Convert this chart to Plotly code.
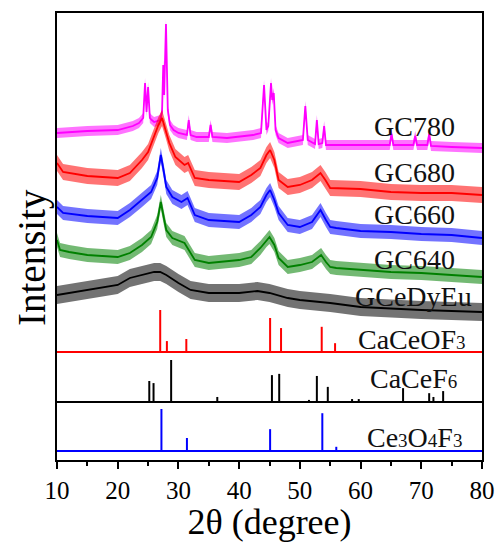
import plotly.graph_objects as go

# ---- measured XRD patterns: 2θ (deg) and intensity (a.u. above each pattern's own baseline)
gc780_2theta = [10, 15, 20, 22.5, 23.5, 24.2, 24.5, 24.75, 25.0, 25.3, 25.6, 26, 27, 27.3, 27.5, 27.65,
                27.95, 28.25, 28.6, 29.2, 30, 31.4, 31.7, 32.0, 33, 35.0, 35.3, 35.6, 38, 42.3, 43.6,
                44.1, 44.5, 44.8, 45.25, 45.45, 45.7, 46.0, 46.5, 48, 50.5, 50.9, 51.3, 52.5, 52.8, 53.1,
                53.7, 54.0, 54.3, 56, 60, 64.8, 65.1, 65.4, 68.7, 69.0, 69.3, 71.0, 71.3, 71.6, 75, 80]
gc780_counts = [15, 17, 18, 22, 25, 30, 65, 36, 61, 30, 28, 26, 28, 36, 83, 53,
                124, 38, 23, 18, 15, 13, 28, 13, 11, 11, 23, 11, 10, 13, 15,
                63, 18, 22, 65, 48, 55, 18, 10, 5, 8, 42, 8, 4, 28, 4,
                5, 22, 3, 3, 3, 3, 14, 3, 3, 12, 3, 3, 14, 2, 1, 0]

gc680_2theta = [10, 11, 15, 20, 22, 24, 25, 26, 26.7, 27.3, 28, 28.5, 29.5, 31, 31.6, 32.7, 35, 40,
                42, 43.5, 44.5, 45.1, 45.8, 46.5, 48, 50, 52, 53.4, 54.2, 55, 60, 65, 70, 75, 80]
gc680_counts = [32, 23, 19, 17, 22, 35, 43, 58, 70, 77, 63, 52, 38, 30, 32, 17, 15, 13,
                20, 27, 40, 45, 35, 15, 8, 10, 15, 22, 15, 7, 6, 3, 2, 2, 0]

gc660_2theta = [10, 11, 15, 20, 22, 24, 25.5, 26.5, 27.1, 27.6, 28, 29, 30.5, 31.5, 32.7, 35, 40,
                42, 43.5, 44.5, 45.1, 45.8, 46.5, 48, 50, 52, 53.4, 54.3, 55, 56, 60, 65, 70, 75, 80]
gc660_counts = [31, 25, 22, 20, 28, 38, 46, 60, 83, 66, 51, 41, 36, 40, 23, 18, 16,
                23, 31, 43, 48, 38, 25, 13, 11, 16, 28, 18, 11, 10, 7, 6, 4, 3, 0]

gc640_2theta = [10, 10.5, 12, 15, 20, 22, 24, 25.5, 26.5, 27.1, 27.6, 28, 29, 31, 32.7, 35, 40,
                42, 43.5, 44.5, 45, 45.8, 46.5, 48, 50, 52, 53.5, 54.3, 55, 56, 60, 65, 70, 75, 80]
gc640_counts = [37, 27, 25, 22, 20, 24, 32, 40, 55, 75, 59, 47, 39, 34, 17, 14, 17,
                20, 29, 37, 40, 32, 19, 10, 12, 15, 22, 15, 10, 9, 7, 5, 4, 2, 0]

gcedyeu_2theta = [10, 15, 20, 22, 24, 26, 27, 28, 30, 32, 35, 40, 43, 45, 48, 50, 55, 60, 70, 80]
gcedyeu_counts = [17, 22, 27, 34, 37, 40, 40, 37, 29, 22, 19, 19, 21, 19, 14, 12, 9, 5, 2, 0]

sample_names = ["GC780", "GC680", "GC660", "GC640", "GCeDyEu"]
sample_colors = ["#FF00FF", "#FF0000", "#0000FF", "#008000", "#000000"]
noise_halfwidth = [5, 8, 7, 7, 9]          # half-height of the counting-noise band (a.u.)
stack_offsets = [312, 265, 222, 183, 148]  # vertical shift of each pattern in the stack

# ---- reference stick patterns: peak 2θ (deg) and relative intensity (%)
cacoef3_2theta = [27.0, 28.1, 31.3, 45.1, 46.9, 53.6, 55.8]
cacoef3_rel = [100, 26, 31, 81, 57, 60, 21]

cacef6_2theta = [25.2, 25.9, 28.8, 36.4, 45.4, 46.6, 51.5, 52.8, 54.6, 58.6, 59.7, 67.0, 71.3, 72.0, 73.6]
cacef6_rel = [50, 45, 100, 12, 64, 67, 5, 62, 36, 7, 7, 33, 21, 12, 26]

ce3o4f3_2theta = [27.2, 31.4, 45.1, 53.7, 56.0]
ce3o4f3_rel = [100, 31, 52, 90, 10]

SUB = '<span style="font-size:19px">{}</span>'
phase_names = ["CaCeOF" + SUB.format("3"),
               "CaCeF" + SUB.format("6"),
               "Ce" + SUB.format("3") + "O" + SUB.format("4") + "F" + SUB.format("3")]
phase_colors = ["#FF0000", "#000000", "#0000FF"]
phase_baselines = [108, 58, 9]
stick_scale = 0.42

FONT = "Liberation Serif"


def rgba(hex_color, alpha):
    h = hex_color.lstrip("#")
    r, g, b = int(h[0:2], 16), int(h[2:4], 16), int(h[4:6], 16)
    return f"rgba({r},{g},{b},{alpha})"


fig = go.Figure()

patterns = [
    (gc780_2theta, gc780_counts),
    (gc680_2theta, gc680_counts),
    (gc660_2theta, gc660_counts),
    (gc640_2theta, gc640_counts),
    (gcedyeu_2theta, gcedyeu_counts),
]

for (tt, counts), name, color, amp, off in zip(patterns, sample_names, sample_colors,
                                              noise_halfwidth, stack_offsets):
    hi = [off + c + amp for c in counts]
    lo = [off + c - amp for c in counts]
    # counting-noise band around the pattern
    fig.add_trace(go.Scatter(
        x=tt + tt[::-1], y=hi + lo[::-1], fill="toself", fillcolor=rgba(color, 0.55),
        line=dict(width=0), mode="lines", hoverinfo="skip", showlegend=False))
    # pattern centre line
    fig.add_trace(go.Scatter(
        x=tt, y=[off + c for c in counts], mode="lines", name=name,
        line=dict(color=color, width=1.8), showlegend=False))

phases = [
    (cacoef3_2theta, cacoef3_rel),
    (cacef6_2theta, cacef6_rel),
    (ce3o4f3_2theta, ce3o4f3_rel),
]
for (pos, rel), color, base in zip(phases, phase_colors, phase_baselines):
    xs, ys = [], []
    for p, r in zip(pos, rel):
        xs += [p, p, None]
        ys += [base, base + r * stick_scale, None]
    fig.add_trace(go.Scatter(x=xs, y=ys, mode="lines", line=dict(color=color, width=2),
                             showlegend=False, hoverinfo="skip"))
    fig.add_trace(go.Scatter(x=[10, 80], y=[base, base], mode="lines",
                             line=dict(color=color, width=2), showlegend=False, hoverinfo="skip"))

# labels next to each pattern
sample_label_pos = [(75.9, 334), (75.9, 288), (75.9, 246), (75.9, 201), (78.7, 164)]
for name, (lx, ly) in zip(sample_names, sample_label_pos):
    fig.add_annotation(x=lx, y=ly, text=name, showarrow=False, xanchor="right", yanchor="middle",
                       font=dict(family=FONT, size=28, color="#111111"))

phase_label_pos = [(77.7, 121), (76.2, 82), (77.0, 23)]
for name, (lx, ly) in zip(phase_names, phase_label_pos):
    fig.add_annotation(x=lx, y=ly, text=name, showarrow=False, xanchor="right", yanchor="middle",
                       font=dict(family=FONT, size=28, color="#111111"))

# vertical axis caption
fig.add_annotation(xref="paper", yref="paper", x=-0.059, y=0.454, text="Intensity",
                   textangle=-90, showarrow=False, xanchor="center", yanchor="middle",
                   font=dict(family=FONT, size=39, color="black"))

fig.update_layout(
    width=496, height=542,
    margin=dict(l=57, r=14, t=13, b=82, autoexpand=False),
    paper_bgcolor="white", plot_bgcolor="white",
    font=dict(family=FONT, color="black"),
    xaxis=dict(
        range=[10, 80], tickvals=[10, 20, 30, 40, 50, 60, 70, 80],
        ticks="outside", ticklen=7, tickwidth=2, tickcolor="black",
        minor=dict(tickvals=[15, 25, 35, 45, 55, 65, 75], ticks="outside", ticklen=4,
                   tickwidth=2, tickcolor="black"),
        showline=True, linewidth=2, linecolor="black", mirror=True,
        showgrid=False, zeroline=False, automargin=False,
        tickfont=dict(family=FONT, size=25, color="black"),
        title=dict(text="2θ (degree)", font=dict(family=FONT, size=36, color="black"), standoff=9),
    ),
    yaxis=dict(
        range=[0, 447], showticklabels=False, ticks="",
        showline=True, linewidth=2, linecolor="black", mirror=True,
        showgrid=False, zeroline=False, automargin=False,
    ),
)

fig.write_html("out.html")
